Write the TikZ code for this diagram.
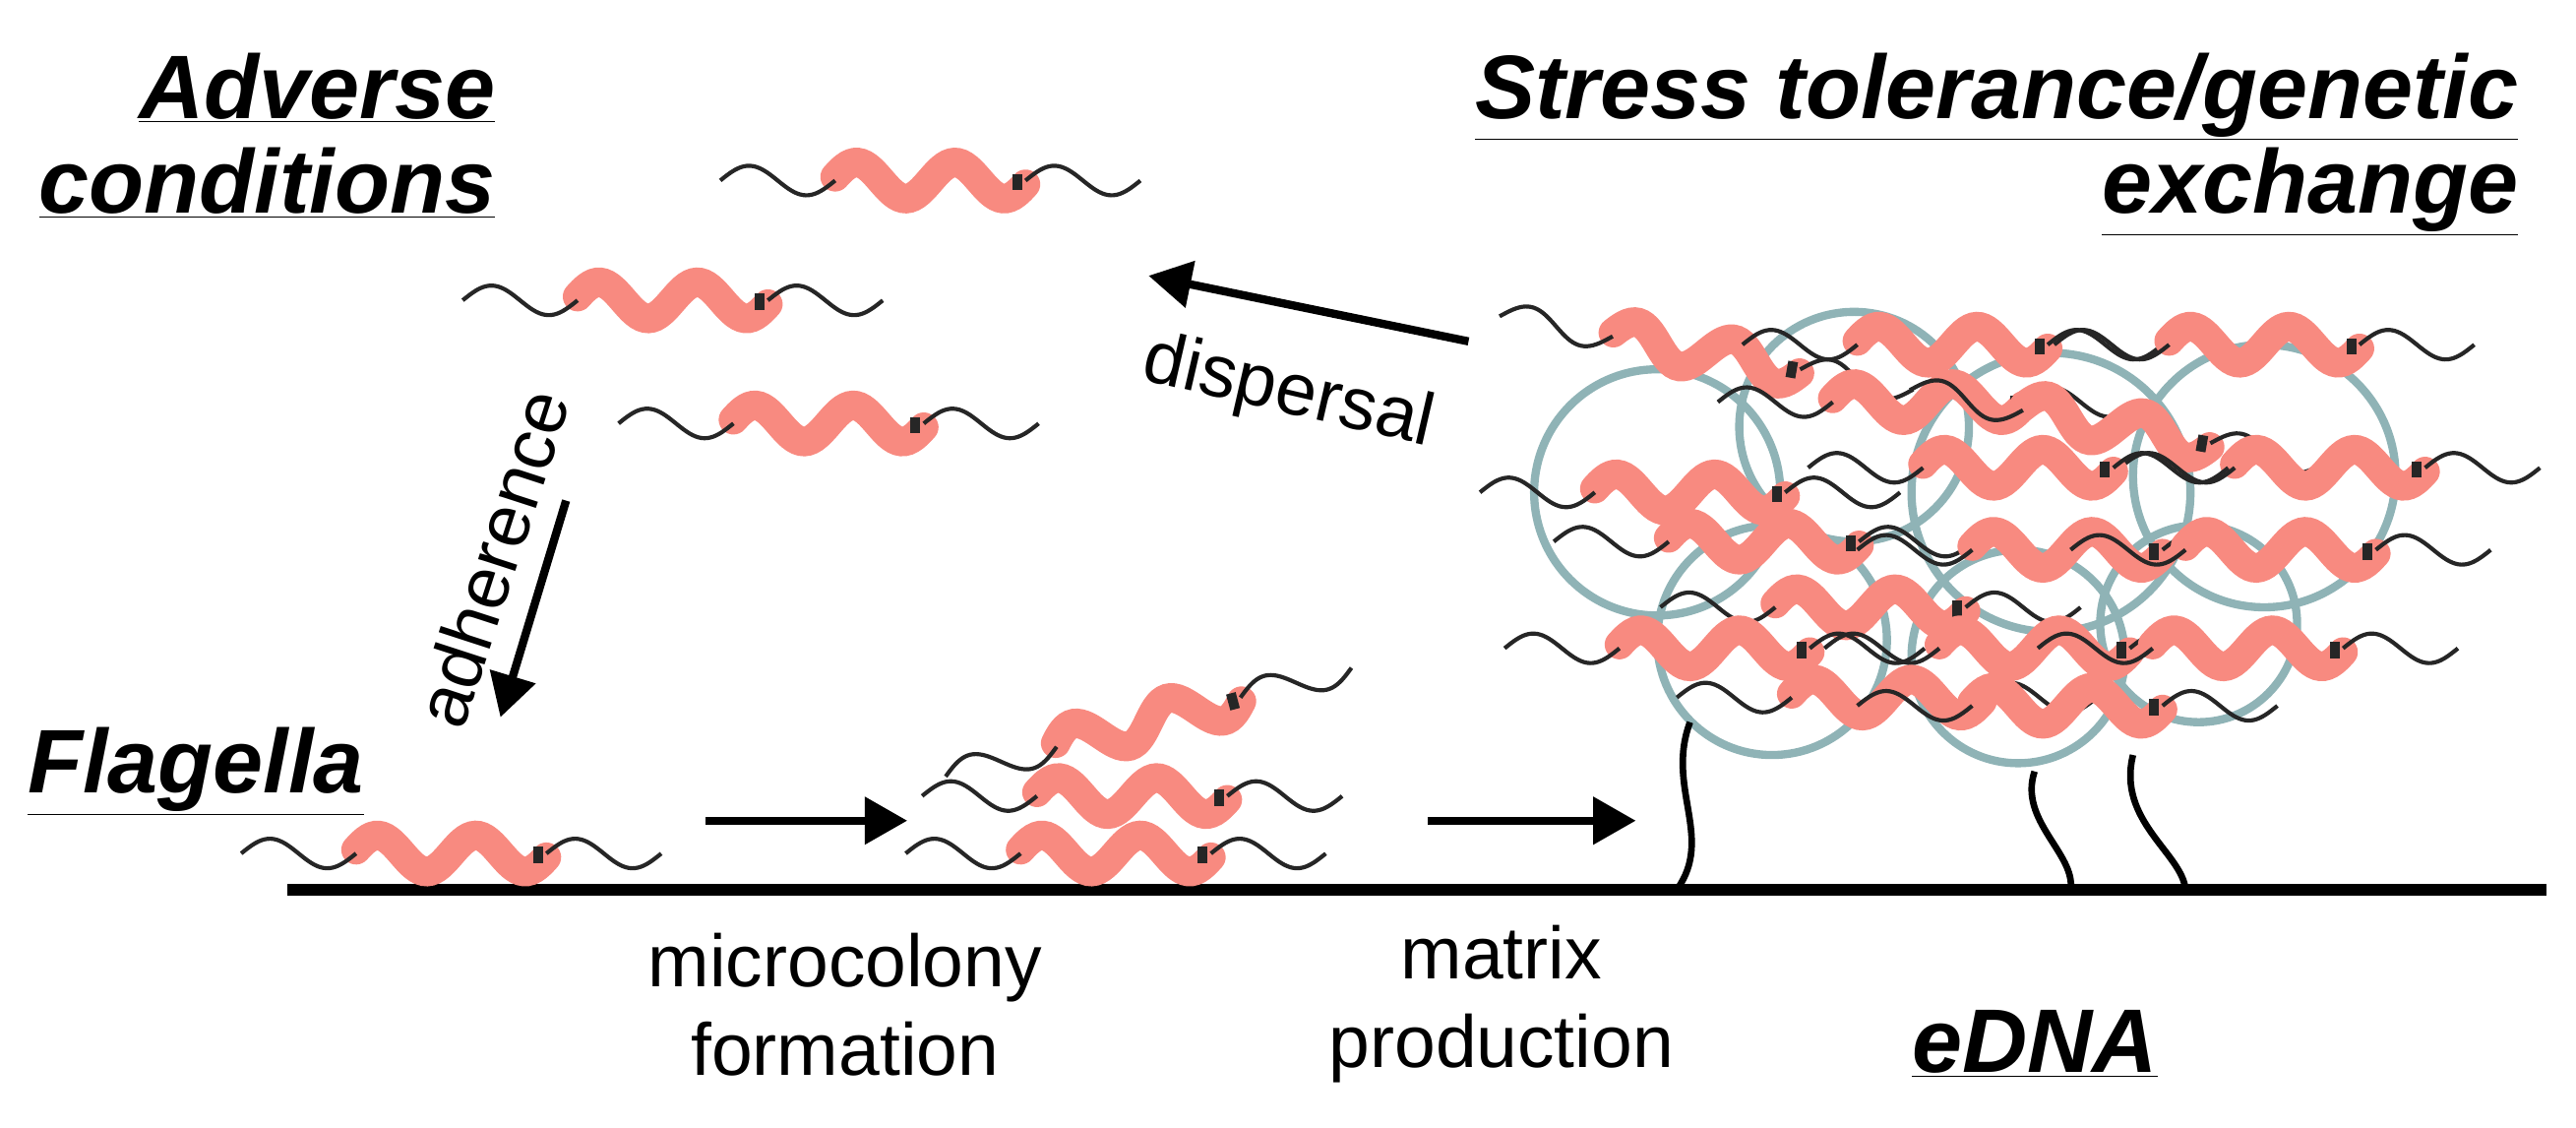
\documentclass[tikz,border=0pt]{standalone}
\usepackage{fontspec}
\setmainfont{Liberation Sans}
\usetikzlibrary{arrows.meta}
\definecolor{pinkb}{HTML}{F88A80}
\definecolor{teal}{HTML}{8FB3B6}
\tikzset{
  bac/.pic={
    \draw[pinkb,line width=18pt,line cap=round] plot[domain=-58:58,samples=60,smooth] (\x,{-11*sin(6*\x)});
    \draw[black!85,line width=2.5pt] plot[domain=58:128,samples=40,smooth] (\x,{-9*sin(5.14*(\x-58))});
    \draw[black!85,line width=2.5pt] plot[domain=-128:-58,samples=40,smooth] (\x,{-9*sin(5.14*(\x+58))});
    \fill[black!85] (50,-4) rectangle (56,6);
  },
  lbl/.style={font=\fontsize{45}{54}\selectfont,align=center},
  hd/.style={font=\fontsize{55}{58}\selectfont\bfseries\itshape,align=right},
  arr/.style={line width=5pt,-{Triangle[length=26pt,width=28pt]}},
}
\begin{document}
\begin{tikzpicture}[x=1pt,y=-1pt]
\useasboundingbox (0,0) rectangle (1570,687);
% headings
\node[hd,anchor=north east,inner sep=0] (adv) at (302,32) {\underline{Adverse}\\\underline{conditions}};
\node[hd,anchor=north east,inner sep=0] (str) at (1535,32) {\underline{Stress tolerance/genetic}\\\underline{exchange}};
\node[hd,anchor=east,inner sep=0] (fla) at (222,470) {\underline{Flagella}};
\node[hd,anchor=west,inner sep=0] (edna) at (1165,636) {\underline{eDNA}};
\node[lbl] (mic) at (515,612) {microcolony\\formation};
\node[lbl] (mat) at (915,612) {matrix\\production};
% ground
\coordinate (g1) at (175,542); \coordinate (g2) at (1552,542);
\draw[line width=7pt] (g1) -- (g2);
% cloud
\begin{scope}[teal,line width=5pt]
\draw (1010,300) circle (75);
\draw (1130,260) circle (70);
\draw (1250,300) circle (85);
\draw (1380,290) circle (80);
\draw (1080,390) circle (70);
\draw (1230,400) circle (65);
\draw (1340,380) circle (60);
\end{scope}
% stalks
\draw[line width=4pt] (1030,440) .. controls (1015,480) and (1045,510) .. (1022,542);
\draw[line width=4pt] (1240,470) .. controls (1230,500) and (1265,520) .. (1262,542);
\draw[line width=4pt] (1300,460) .. controls (1290,500) and (1330,520) .. (1332,542);
% free bacteria
\pic at (567,110) {bac};
\pic at (410,183) {bac};
\pic at (505,258) {bac};
\pic at (275,520) {bac};
\pic[rotate=15] at (700,440) {bac};
\pic at (690,485) {bac};
\pic at (680,520) {bac};
% biofilm bacteria
\foreach \p/\q/\r in {1040/215/-10,1190/210/0,1380/210/0,1175/245/0,1290/260/-10,1420/285/0,1230/285/0,1030/300/0,1075/330/0,1260/335/0,1390/335/0,1140/370/0,1045/395/0,1240/395/0,1370/395/0,1150/425/0,1260/430/0}
  \pic[rotate=\r] at (\p,\q) {bac};
% arrows
\coordinate (d1) at (895,208); \coordinate (d2) at (700,168);
\draw[arr] (d1) -- (d2);
\node[lbl,rotate=-13] (dis) at (785,240) {dispersal};
\coordinate (a1) at (345,305); \coordinate (a2) at (305,437);
\node[lbl,rotate=72] (adh) at (300,340) {adherence};
\draw[arr] (a1) -- (a2);
\coordinate (h1) at (430,500); \coordinate (h2) at (553,500);
\draw[arr] (h1) -- (h2);
\coordinate (m1) at (870,500); \coordinate (m2) at (997,500);
\draw[arr] (m1) -- (m2);
\end{tikzpicture}
\end{document}
